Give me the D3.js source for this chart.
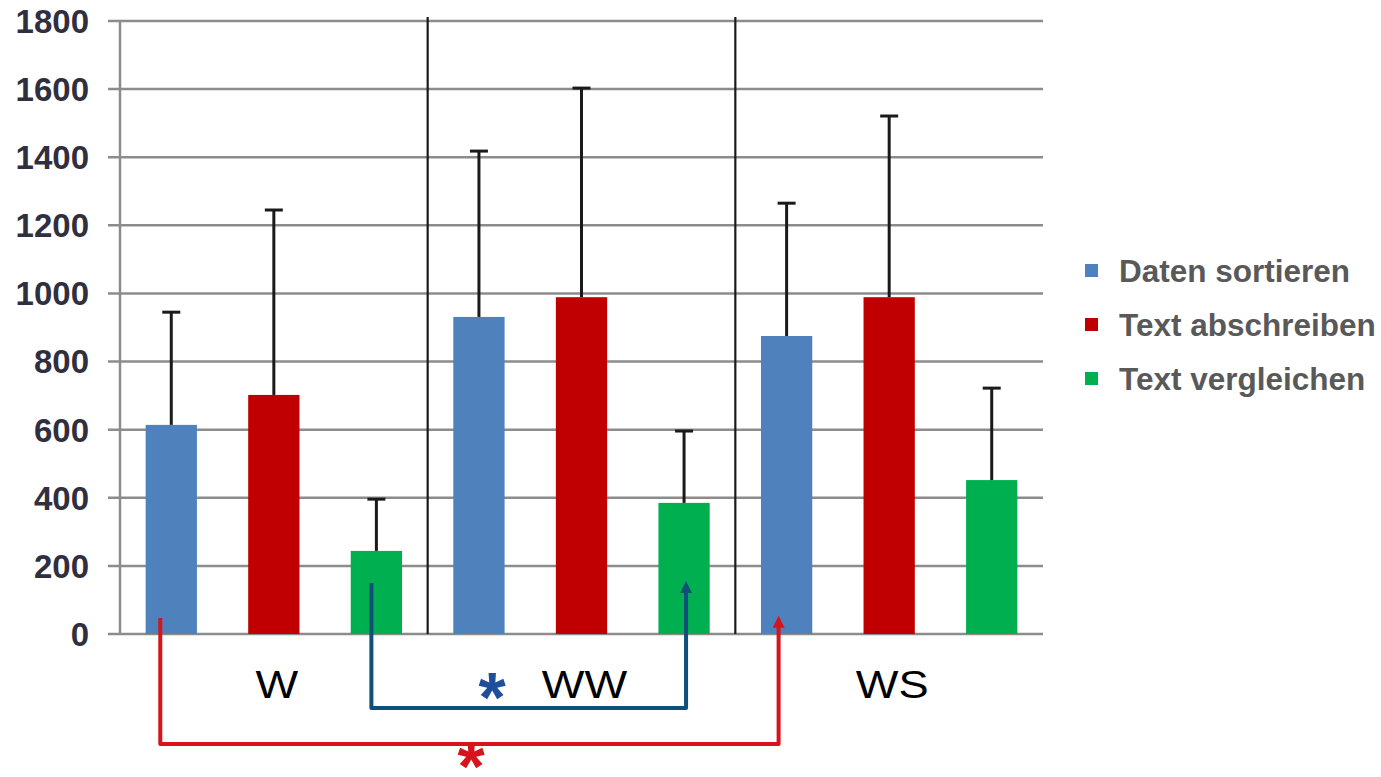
<!DOCTYPE html>
<html><head><meta charset="utf-8">
<script src="https://cdn.jsdelivr.net/npm/d3@7"></script>
<style>body{margin:0;background:#fff;} svg{display:block;}</style>
</head><body>
<svg id="chart" width="1381" height="777"></svg>
<script>
const categories = ["W", "WW", "WS"];
const seriesNames = ["Daten sortieren", "Text abschreiben", "Text vergleichen"];
const seriesColors = ["#4f81bd", "#c00000", "#00b050"];
const datenSortieren = [614, 931, 875];
const textAbschreiben = [702, 989, 989];
const textVergleichen = [244, 385, 452];
const errDatenSortieren = [945, 1418, 1265];
const errTextAbschreiben = [1245, 1603, 1521];
const errTextVergleichen = [396, 596, 722];
const yTicks = [0, 200, 400, 600, 800, 1000, 1200, 1400, 1600, 1800];

const seriesValues = [datenSortieren, textAbschreiben, textVergleichen];
const seriesErrors = [errDatenSortieren, errTextAbschreiben, errTextVergleichen];

const svg = d3.select("#chart");
const pLeft = 120, pRight = 1043, pTop = 21, pBottom = 634;

const x0 = d3.scaleBand().domain(categories).range([pLeft, pRight]).padding(0);
const x1 = d3.scaleBand().domain(d3.range(3)).range([0, x0.bandwidth()]).paddingInner(0.5).paddingOuter(0.25);
const y = d3.scaleLinear().domain([0, 1800]).range([pBottom, pTop]);

// gridlines
svg.append("g").selectAll("line").data(yTicks).join("line")
  .attr("x1", pLeft - 12).attr("x2", pRight)
  .attr("y1", d => y(d)).attr("y2", d => y(d))
  .attr("stroke", "#8c8c8c").attr("stroke-width", 2.5);

// y axis line
svg.append("line").attr("x1", pLeft).attr("x2", pLeft).attr("y1", y(1800)).attr("y2", y(0))
  .attr("stroke", "#8c8c8c").attr("stroke-width", 2.5);

// y tick labels
svg.append("g").selectAll("text").data(yTicks).join("text")
  .attr("x", 89).attr("y", d => y(d)).attr("dy", "0.36em")
  .attr("text-anchor", "end")
  .attr("font-family", "Liberation Sans, Arial, sans-serif")
  .attr("font-weight", "bold").attr("font-size", 33)
  .attr("fill", "#2f2f3f")
  .text(d => d);

// category separators
[1, 2].forEach(i => {
  const xs = x0(categories[i]);
  svg.append("line").attr("x1", xs).attr("x2", xs).attr("y1", 17).attr("y2", y(0))
    .attr("stroke", "#1a1a1a").attr("stroke-width", 2.2);
});

// bars
const g = svg.append("g");
categories.forEach((c, ci) => {
  seriesValues.forEach((vals, si) => {
    const bx = x0(c) + x1(si);
    g.append("rect").attr("x", bx).attr("width", x1.bandwidth())
      .attr("y", y(vals[ci])).attr("height", y(0) - y(vals[ci]))
      .attr("fill", seriesColors[si]);
    const cx = bx + x1.bandwidth() / 2;
    const eTop = y(seriesErrors[si][ci]);
    g.append("line").attr("x1", cx).attr("x2", cx).attr("y1", y(vals[ci])).attr("y2", eTop)
      .attr("stroke", "#1a1a1a").attr("stroke-width", 3);
    g.append("line").attr("x1", cx - 9).attr("x2", cx + 9).attr("y1", eTop).attr("y2", eTop)
      .attr("stroke", "#1a1a1a").attr("stroke-width", 3);
  });
});

// category labels (horizontally stretched as in the reference)
svg.append("g").selectAll("text").data(categories).join("text")
  .attr("transform", d => `translate(${x0(d) + x0.bandwidth() / 2 + 3},698) scale(1.16,1)`)
  .attr("text-anchor", "middle")
  .attr("font-family", "Liberation Sans, Arial, sans-serif")
  .attr("font-size", 39).attr("fill", "#000")
  .text(d => d);

// legend
const lg = svg.append("g");
seriesNames.forEach((n, i) => {
  const ly = 271 + i * 54;
  lg.append("rect").attr("x", 1085).attr("y", ly - 7).attr("width", 13).attr("height", 13).attr("fill", seriesColors[i]);
  lg.append("text").attr("x", 1119).attr("y", ly).attr("dy", "0.36em")
    .attr("font-family", "Liberation Sans, Arial, sans-serif")
    .attr("font-weight", "bold").attr("font-size", 31.5).attr("fill", "#595959")
    .text(n);
});

// significance brackets
const defs = svg.append("defs");
function marker(id, color) {
  defs.append("marker").attr("id", id).attr("viewBox", "0 0 10 10")
    .attr("refX", 5).attr("refY", 5).attr("markerWidth", 3).attr("markerHeight", 3)
    .attr("orient", "auto")
    .append("path").attr("d", "M0,0 L10,5 L0,10 z").attr("fill", color);
}
marker("arrRed", "#d7141c");
marker("arrBlue", "#0d5078");

function center(ci, si) { return x0(categories[ci]) + x1(si) + x1.bandwidth() / 2; }

const redL = center(0, 0) - 11, redR = center(2, 0) - 8;
svg.append("path")
  .attr("d", `M${redL},${y(47)} V744 H${redR} V${y(36)}`)
  .attr("fill", "none").attr("stroke", "#d7141c").attr("stroke-width", 4)
  .attr("stroke-linejoin", "round").attr("marker-end", "url(#arrRed)");
const blueL = center(0, 2) - 5, blueR = center(1, 2) + 2;
svg.append("path")
  .attr("d", `M${blueL},${y(150)} V708 H${blueR} V${y(138)}`)
  .attr("fill", "none").attr("stroke", "#0d5078").attr("stroke-width", 4)
  .attr("stroke-linejoin", "round").attr("marker-end", "url(#arrBlue)");

svg.append("text").attr("x", 471).attr("y", 791).attr("text-anchor", "middle")
  .attr("font-family", "Liberation Sans, Arial, sans-serif").attr("font-weight", "bold")
  .attr("font-size", 70).attr("fill", "#d7141c").text("*");
svg.append("text").attr("x", 492).attr("y", 722).attr("text-anchor", "middle")
  .attr("font-family", "Liberation Sans, Arial, sans-serif").attr("font-weight", "bold")
  .attr("font-size", 70).attr("fill", "#1f4e9a").text("*");
</script>
</body></html>
